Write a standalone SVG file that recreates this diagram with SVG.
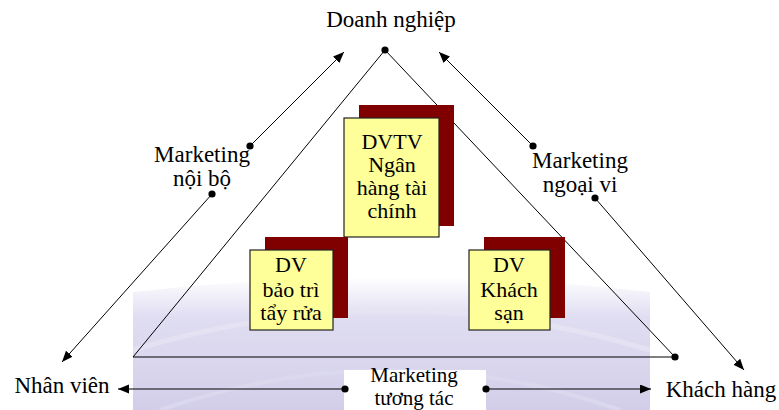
<svg xmlns="http://www.w3.org/2000/svg" width="779" height="410" viewBox="0 0 779 410">
<defs>
<style>
.t text{font-size:23px;fill:#000;text-anchor:middle}
.t .bt{font-size:22px}
.t .sm{font-size:21px}
.ln{stroke:#000;stroke-width:1;fill:none}
.shadow{fill:#800000}
.box{fill:#ffff99;stroke:#222;stroke-width:1.2}
</style>
<marker id="arr" markerUnits="userSpaceOnUse" markerWidth="12" markerHeight="10" refX="11" refY="4.5" orient="auto">
<path d="M0,0 L11,4.5 L0,9 z" fill="#000"/>
</marker>
<marker id="dot" markerUnits="userSpaceOnUse" markerWidth="9" markerHeight="9" refX="4.5" refY="4.5">
<circle cx="4.5" cy="4.5" r="3.6" fill="#000"/>
</marker>
<clipPath id="wmclip"><rect x="133" y="250" width="517" height="160"/></clipPath>
<linearGradient id="wmg" x1="0" y1="0" x2="0" y2="1">
<stop offset="0" stop-color="#d8d5ee" stop-opacity="0"/>
<stop offset="0.3" stop-color="#d8d5ee" stop-opacity="0.8"/>
<stop offset="1" stop-color="#d2cee9"/>
</linearGradient>
</defs>
<rect width="779" height="410" fill="#fff"/>
<g id="watermark" clip-path="url(#wmclip)">
<path d="M133,292 Q392,262 650,292 L650,410 L133,410 Z" fill="url(#wmg)"/>
<path d="M133,350 Q392,272 650,350" fill="none" stroke="#e6e4f3" stroke-width="5" opacity="0.8"/>
<path d="M160,410 Q392,330 620,410" fill="none" stroke="#dcd9ef" stroke-width="4" opacity="0.8"/>
</g>
<rect x="344" y="370" width="142" height="40" fill="#fff"/>
<rect x="651" y="370" width="128" height="40" fill="#fff"/>
<g id="connectors">
<path class="ln" d="M385,50 L133,357 L675,357 Z"/>
<circle cx="385" cy="50" r="3.6"/>
<circle cx="675" cy="357" r="3.6"/>
<line class="ln" x1="250" y1="146" x2="344" y2="52" marker-start="url(#dot)" marker-end="url(#arr)"/>
<line class="ln" x1="212" y1="194" x2="62" y2="362" marker-start="url(#dot)" marker-end="url(#arr)"/>
<line class="ln" x1="533" y1="146" x2="439" y2="52" marker-start="url(#dot)" marker-end="url(#arr)"/>
<line class="ln" x1="595" y1="198" x2="744" y2="370" marker-start="url(#dot)" marker-end="url(#arr)"/>
<line class="ln" x1="345" y1="389" x2="118" y2="389" marker-start="url(#dot)" marker-end="url(#arr)"/>
<line class="ln" x1="486" y1="389" x2="651" y2="389" marker-start="url(#dot)" marker-end="url(#arr)"/>
</g>
<g class="t" font-family="'Liberation Serif', 'Times New Roman', 'DejaVu Serif', serif">
<g id="doanh-nghiep"><text x="391" y="27">Doanh nghiệp</text></g>
<g id="nhan-vien"><text x="62" y="393">Nhân viên</text></g>
<g id="khach-hang"><text x="721" y="397">Khách hàng</text></g>
<g id="mkt-noi-bo"><text x="202" y="162">Marketing</text><text x="202" y="186">nội bộ</text></g>
<g id="mkt-ngoai-vi"><text x="580" y="168">Marketing</text><text x="580" y="192">ngoại vi</text></g>
<g id="mkt-tuong-tac"><text class="sm" x="414" y="382">Marketing</text><text class="sm" x="414" y="405">tương tác</text></g>
<g id="dvtv">
<rect class="shadow" x="359" y="105" width="95" height="121"/>
<rect class="box" x="344" y="118" width="95" height="119"/>
<text class="bt" x="392" y="149">DVTV</text>
<text class="bt" x="392" y="172">Ngân</text>
<text class="bt" x="392" y="195">hàng tài</text>
<text class="bt" x="392" y="218">chính</text>
</g>
<g id="dv-bao-tri">
<rect class="shadow" x="265" y="237" width="83" height="81"/>
<rect class="box" x="250" y="250" width="83" height="80"/>
<text class="bt" x="291" y="272">DV</text>
<text class="bt" x="291" y="297">bảo trì</text>
<text class="bt" x="291" y="320">tẩy rửa</text>
</g>
<g id="dv-khach-san">
<rect class="shadow" x="484" y="237" width="81" height="81"/>
<rect class="box" x="469" y="250" width="81" height="80"/>
<text class="bt" x="509" y="272">DV</text>
<text class="bt" x="509" y="297">Khách</text>
<text class="bt" x="509" y="320">sạn</text>
</g>
</g>
</svg>
